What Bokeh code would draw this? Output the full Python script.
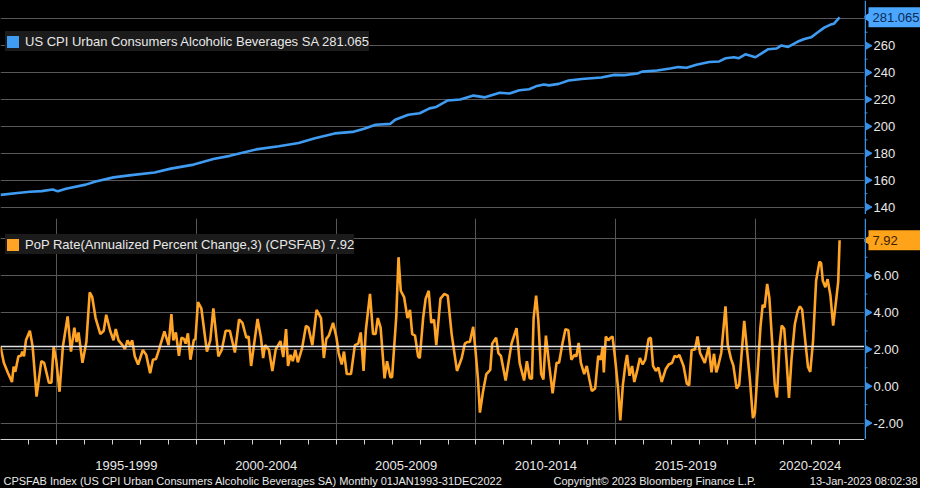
import math
from bokeh.plotting import figure
from bokeh.models import (Range1d, FixedTicker, Span, Label, Legend, LegendItem)
from bokeh.layouts import column, row
from bokeh.core.properties import value
from bokeh.embed import file_html
from bokeh.resources import INLINE

# ---------------- data ----------------
cpi_years = [1993.00, 1993.70, 1994.05, 1994.47, 1994.87, 1995.05, 1995.34, 1996.05,
             1996.40, 1997.04, 1997.68, 1998.51, 1999.09, 1999.91, 2000.61, 2001.20,
             2002.14, 2002.95, 2003.66, 2004.24, 2004.95, 2005.59, 2006.00, 2006.41,
             2006.94, 2007.11, 2007.58, 2007.99, 2008.34, 2008.58, 2008.99, 2009.44,
             2009.91, 2010.32, 2010.85, 2011.20, 2011.55, 2011.90, 2012.14, 2012.43,
             2012.61, 2012.96, 2013.31, 2013.78, 2014.48, 2014.95, 2015.30, 2015.77,
             2015.94, 2016.47, 2016.94, 2017.23, 2017.53, 2017.88, 2018.34, 2018.70,
             2018.93, 2019.22, 2019.40, 2019.63, 2019.99, 2020.45, 2020.75, 2020.92,
             2021.16, 2021.51, 2021.74, 2021.98, 2022.21, 2022.45, 2022.68, 2022.80,
             2023.00]
cpi_values = [149.1, 150.7, 151.4, 151.9, 153.1, 151.7, 153.6, 156.7,
              159.1, 162.1, 163.8, 165.7, 168.6, 171.6, 175.7, 178.1,
              182.9, 185.2, 187.6, 191.2, 194.8, 195.9, 198.3, 201.2,
              201.9, 205.0, 208.6, 209.8, 213.4, 214.5, 219.3, 220.0,
              222.9, 221.6, 225.0, 224.5, 226.9, 227.6, 229.8, 231.2,
              230.5, 231.6, 234.1, 235.2, 236.4, 238.3, 238.1, 239.3,
              240.7, 241.6, 243.1, 244.1, 243.6, 245.9, 247.9, 248.3,
              250.7, 251.4, 250.7, 253.6, 251.4, 257.4, 257.9, 260.2,
              259.1, 263.1, 265.0, 266.2, 269.8, 273.4, 275.7, 276.4,
              281.065]

pop_years = [
    1993.00, 1993.12, 1993.26, 1993.41, 1993.47, 1993.53, 1993.64, 1993.73, 1993.78, 1993.84,
    1993.91, 1994.05, 1994.15, 1994.29, 1994.46, 1994.56, 1994.73, 1994.82, 1994.90, 1994.99,
    1995.11, 1995.23, 1995.40, 1995.52, 1995.64, 1995.72, 1995.79, 1995.93, 1996.07, 1996.19,
    1996.28, 1996.40, 1996.57, 1996.69, 1996.78, 1996.92, 1997.04, 1997.12, 1997.22, 1997.36,
    1997.45, 1997.54, 1997.63, 1997.71, 1997.80, 1997.92, 1998.09,
    1998.21, 1998.35, 1998.45, 1998.56, 1998.68, 1998.86, 1999.01, 1999.11, 1999.18, 1999.27,
    1999.38, 1999.47, 1999.56, 1999.62, 1999.70, 1999.79, 1999.91, 1999.97, 2000.06, 2000.18,
    2000.38, 2000.50, 2000.61, 2000.79, 2000.91, 2001.05, 2001.20, 2001.38, 2001.53, 2001.65,
    2001.79, 2001.87, 2001.96, 2002.19, 2002.31, 2002.39, 2002.46, 2002.60, 2002.72, 2002.84,
    2003.01, 2003.11, 2003.21, 2003.28,
    2003.37, 2003.45, 2003.54, 2003.63, 2003.78, 2003.92, 2004.01, 2004.15, 2004.30, 2004.46,
    2004.56, 2004.65, 2004.74, 2004.89, 2005.01, 2005.09, 2005.20, 2005.28, 2005.38, 2005.53,
    2005.67, 2005.79, 2005.88, 2005.98, 2006.06, 2006.21, 2006.32, 2006.41, 2006.49, 2006.59,
    2006.73, 2006.82, 2006.94, 2007.00, 2007.15, 2007.23, 2007.31, 2007.43, 2007.55, 2007.64,
    2007.72, 2007.82, 2007.93, 2007.99, 2008.11, 2008.20, 2008.31,
    2008.40, 2008.50, 2008.58, 2008.73, 2008.87, 2008.99, 2009.13, 2009.32, 2009.49, 2009.60,
    2009.69, 2009.78, 2009.90, 2009.98, 2010.07, 2010.14, 2010.25, 2010.37, 2010.51, 2010.58,
    2010.72, 2010.80, 2010.89, 2011.06, 2011.27, 2011.45, 2011.56, 2011.72, 2011.82, 2011.92,
    2012.00, 2012.06, 2012.15, 2012.23, 2012.33, 2012.41, 2012.50, 2012.62, 2012.74, 2012.88,
    2012.97, 2013.09, 2013.20, 2013.30, 2013.41,
    2013.52, 2013.59, 2013.67, 2013.75, 2013.87, 2013.96, 2014.05, 2014.14, 2014.26, 2014.37,
    2014.46, 2014.53, 2014.57, 2014.64, 2014.73, 2014.81, 2014.88, 2014.96, 2015.08, 2015.16,
    2015.25, 2015.34, 2015.40, 2015.49, 2015.58, 2015.66, 2015.76, 2015.86, 2015.96, 2016.05,
    2016.17, 2016.25, 2016.33, 2016.43, 2016.52, 2016.64, 2016.78, 2016.89, 2017.01, 2017.10,
    2017.19, 2017.27, 2017.42, 2017.54, 2017.62, 2017.71, 2017.83, 2017.92, 2018.01, 2018.18,
    2018.32, 2018.42, 2018.51, 2018.59,
    2018.65, 2018.77, 2018.92, 2019.00, 2019.12, 2019.20, 2019.32, 2019.41, 2019.59, 2019.70,
    2019.79, 2019.90, 2019.97, 2020.06, 2020.17, 2020.25, 2020.32, 2020.41, 2020.49, 2020.58,
    2020.68, 2020.76, 2020.85, 2020.93, 2021.02, 2021.10, 2021.19, 2021.28, 2021.40, 2021.50,
    2021.58, 2021.66, 2021.78, 2021.87, 2021.95, 2022.05, 2022.16, 2022.28, 2022.34, 2022.40,
    2022.49, 2022.57, 2022.67, 2022.77, 2022.87, 2022.95, 2023.00]
pop_values = [
    2.14, 1.27, 0.75, 0.23, 1.06, 0.78, 1.62, 1.65, 1.88, 1.62,
    2.49, 3.01, 2.14, -0.56, 1.36, 1.27, 0.19, 0.19, 2.14, 1.44,
    -0.30, 2.14, 3.79, 1.88, 3.18, 2.40, 2.92, 1.27, 2.40, 5.10,
    4.83, 3.70, 2.83, 3.01, 3.88, 3.01, 2.49, 3.10, 2.49, 2.23,
    2.02, 2.49, 2.23, 2.49, 1.62, 1.18, 1.97,
    1.70, 0.71, 1.44, 1.48, 2.05, 2.97, 2.23, 3.91, 2.49, 2.92,
    1.65, 2.63, 2.57, 2.31, 2.87, 1.44, 2.49, 2.57, 4.57, 4.23,
    1.88, 2.49, 4.23, 1.62, 1.97, 3.01, 3.01, 1.83, 3.62, 3.44,
    2.63, 2.70, 1.10, 3.65, 2.66, 1.53, 2.23, 1.97, 0.83, 2.00,
    2.45, 1.58, 3.10, 1.10,
    1.70, 1.36, 1.97, 1.30, 2.05, 3.27, 3.18, 2.23, 4.14, 3.70,
    1.53, 2.57, 2.75, 3.44, 2.66, 1.80, 1.18, 1.88, 0.66, 0.66,
    2.23, 2.31, 2.92, 0.83, 3.01, 5.01, 2.83, 2.83, 3.70, 3.18,
    0.43, 1.36, 0.49, 0.49, 3.79, 7.00, 5.18, 4.83, 3.70, 4.14,
    2.83, 2.75, 1.62, 1.53, 3.70, 4.75, 5.18,
    3.44, 3.62, 2.23, 4.75, 5.01, 4.92, 2.83, 0.83, 1.53, 2.31,
    2.40, 2.40, 3.22, 1.97, 0.40, -1.43, -0.30, 0.66, 0.89, 2.31,
    2.63, 1.80, 1.65, 0.31, 2.31, 3.15, 1.27, 0.31, 1.36, 0.43,
    0.40, 3.70, 4.92, 3.53, 0.66, 0.37, 2.75, 1.10, -0.38, 1.27,
    1.27, 2.31, 3.10, 3.04, 1.44,
    1.70, 1.62, 2.35, 1.27, 0.66, 1.10, 0.40, -0.26, -0.12, 1.65,
    1.44, 2.14, 0.75, 2.70, 2.49, 2.63, 2.70, 1.70, -0.12, -1.86,
    0.05, 1.18, 1.70, 0.57, 1.10, 0.23, 0.83, 1.53, 1.18, 1.44,
    2.57, 2.63, 1.10, 0.83, 1.01, 0.23, 0.92, 1.18, 1.27, 1.65,
    1.58, 1.70, 1.10, 0.14, 0.05, 1.97, 2.00, 2.70, 1.80, 1.27,
    2.14, 0.75, 1.76, 0.75,
    1.04, 1.82, 4.33, 2.25, 1.47, 1.13, -0.12, 0.09, 3.55, 1.82,
    0.43, -1.73, -1.47, 0.61, 3.21, 4.42, 4.28, 5.55, 4.77, 2.60,
    0.09, -0.61, 2.17, 3.29, 3.12, 1.47, -0.64, 1.47, 3.38, 4.07,
    4.33, 4.16, 2.34, 1.04, 0.78, 2.43, 5.72, 6.76, 6.67, 5.72,
    5.37, 5.81, 4.94, 3.29, 4.59, 5.67, 7.92]

cpi_ticks = [140, 160, 180, 200, 220, 240, 260, 280]
cpi_minor = [150, 170, 190, 210, 230, 250, 270]
pop_ticks = [-2, 0, 2, 4, 6, 8]
pop_minor = [-1, 1, 3, 5, 7]
pop_mean = 2.15
period_starts = [1995, 2000, 2005, 2010, 2015, 2020]
period_labels = ["1995-1999", "2000-2004", "2005-2009", "2010-2014", "2015-2019", "2020-2024"]
year_ticks = list(range(1994, 2024))

cpi_name = "US CPI Urban Consumers Alcoholic Beverages SA"
pop_name = "PoP Rate(Annualized Percent Change,3) (CPSFAB)"
cpi_last = 281.065
pop_last = 7.92
footer_left = "CPSFAB Index (US CPI Urban Consumers Alcoholic Beverages SA)  Monthly 01JAN1993-31DEC2022"
footer_mid = "Copyright\u00a9 2023 Bloomberg Finance L.P."
footer_right = "13-Jan-2023 08:02:38"

# ---------------- style ----------------
BG = "#000000"
GRID = "#575757"
BLUE = "#3f9cf2"
ORANGE = "#ffa424"
AXIS_BLUE = "#3a8fe6"
TAG_BLUE = "#4aa6ff"
TAG_ORANGE = "#ffa31a"
TXT = "#e8e8e8"
FONT = "Liberation Sans"
W = 920
FW = 864
RB = W - FW
X0, X1 = 1993.0, 2023.89
TOP_H = 214
BOT_FH = 221
BOT_AX = 33

x_range = Range1d(X0, X1)
top_yr = Range1d(134.5, 293.6)
bot_yr = Range1d(-2.89, 9.1)


def base_fig(**kw):
    return figure(output_backend="svg", toolbar_location=None, background_fill_color=BG,
                  border_fill_color=BG, outline_line_color=None, **kw)


def make_legend(renderer, label, loc):
    return Legend(items=[LegendItem(label=label, renderers=[renderer])],
                  location=loc, background_fill_color="#1b1b1b", background_fill_alpha=1,
                  border_line_color=None, padding=4, margin=0, spacing=0,
                  label_text_color=TXT, label_text_font=FONT, label_text_font_size="13px",
                  glyph_width=15, glyph_height=15, label_height=20, label_standoff=5)


def axis_fig(y_range, height, ticks, minor, fmt, tag_y, tag_bg, tag_fg, bottom_border=0):
    f = base_fig(width=RB, height=height, x_range=Range1d(0, RB), y_range=y_range,
                 x_axis_location=None, y_axis_location=None, min_border_left=0,
                 min_border_right=0, min_border_top=0, min_border_bottom=bottom_border)
    f.xgrid.visible = False
    f.ygrid.visible = False
    shown = [t for t in ticks if abs(t - tag_y) > (ticks[1] - ticks[0]) * 0.5]
    f.add_layout(Span(location=0.75, dimension="height", line_color=AXIS_BLUE, line_width=1.5))
    f.segment(x0=[0] * len(minor), x1=[3] * len(minor), y0=minor, y1=minor,
              line_color=AXIS_BLUE, line_width=1)
    f.scatter(x=[3.5] * len(shown), y=shown, marker="triangle", angle=-math.pi / 2,
              size=7, fill_color=AXIS_BLUE, line_color=AXIS_BLUE)
    f.text(x=[9] * len(shown), y=shown, text=[fmt(t) for t in shown], text_baseline="middle",
           text_align="left", text_color=TXT, text_font=value(FONT), text_font_size="13px")
    f.rect(x=[30], y=[tag_y], width=52, height=20, height_units="screen",
           fill_color=tag_bg, line_color=None)
    f.scatter(x=[4.5], y=[tag_y], marker="triangle", angle=math.pi / 2, size=11,
              fill_color=tag_bg, line_color=tag_bg)
    f.text(x=[8], y=[tag_y], text=[f"{tag_y}"], text_baseline="middle", text_align="left",
           text_color=tag_fg, text_font=value(FONT), text_font_size="13px")
    return f


# ---------------- top panel ----------------
top = base_fig(width=FW, height=TOP_H, x_range=x_range, y_range=top_yr,
               x_axis_location=None, y_axis_location=None, min_border=0)
top.xgrid.visible = False
top.ygrid.ticker = FixedTicker(ticks=cpi_ticks)
top.ygrid.grid_line_color = GRID
top.line(cpi_years, cpi_values, line_color=BLUE, line_width=2.6)
r_top = top.vbar(x=cpi_years, top=cpi_values, width=0.05, fill_color=BLUE,
                 line_color=None, visible=False)
top.add_layout(make_legend(r_top, f"{cpi_name} {cpi_last}", (5, TOP_H - 23 - 28)))

top_ax = axis_fig(top_yr, TOP_H, cpi_ticks, cpi_minor, lambda t: f"{t:g}",
                  cpi_last, TAG_BLUE, "#0b2a52")

# ---------------- separator ----------------
sep = base_fig(width=W, height=4, x_range=Range1d(0, W), y_range=Range1d(0, 1),
               x_axis_location=None, y_axis_location=None, min_border=0)
sep.background_fill_color = "#4b4b4b"
sep.border_fill_color = "#4b4b4b"
sep.xgrid.visible = False
sep.ygrid.visible = False
sep.add_layout(Span(location=FW + 0.75, dimension="height", line_color=AXIS_BLUE, line_width=1.5))

# ---------------- bottom panel ----------------
bot = base_fig(width=FW, height=BOT_FH + BOT_AX, x_range=x_range, y_range=bot_yr,
               y_axis_location=None, min_border_left=0, min_border_right=0,
               min_border_top=0, min_border_bottom=BOT_AX)
bot.xgrid.ticker = FixedTicker(ticks=period_starts)
bot.xgrid.grid_line_color = GRID
bot.ygrid.ticker = FixedTicker(ticks=pop_ticks)
bot.ygrid.grid_line_color = GRID
bot.add_layout(Span(location=pop_mean, dimension="width", line_color="#e0e0e0", line_width=1.5))
bot.line(pop_years, pop_values, line_color=ORANGE, line_width=2.6)
r_bot = bot.vbar(x=pop_years, top=pop_values, width=0.05, fill_color=ORANGE,
                 line_color=None, visible=False)
bot.add_layout(make_legend(r_bot, f"{pop_name} {pop_last}", (5, BOT_FH - 8 - 28)))

centers = [(s + min(s + 5, X1)) / 2 for s in period_starts]
xa = bot.xaxis[0]
xa.ticker = FixedTicker(ticks=centers, minor_ticks=year_ticks)
xa.major_label_overrides = {c: lab for c, lab in zip(centers, period_labels)}
xa.axis_line_color = "#d0d0d0"
xa.major_tick_line_color = None
xa.major_tick_out = 0
xa.major_tick_in = 0
xa.minor_tick_line_color = "#d0d0d0"
xa.minor_tick_in = 0
xa.minor_tick_out = 5
xa.major_label_text_color = TXT
xa.major_label_text_font = FONT
xa.major_label_text_font_size = "13px"
xa.major_label_standoff = 16

bot_ax = axis_fig(bot_yr, BOT_FH + BOT_AX, pop_ticks, pop_minor, lambda t: f"{t:.2f}",
                  pop_last, TAG_ORANGE, "#3a2200", bottom_border=BOT_AX)

# ---------------- footer ----------------
foot = base_fig(width=W, height=16, x_range=Range1d(0, W), y_range=Range1d(0, 16),
                x_axis_location=None, y_axis_location=None, min_border=0)
foot.xgrid.visible = False
foot.ygrid.visible = False
for xx, txt, al in [(3, footer_left, "left"), (553, footer_mid, "left"), (917, footer_right, "right")]:
    foot.add_layout(Label(x=xx, y=8, text=txt, text_align=al, text_baseline="middle",
                          text_color=TXT, text_font=FONT, text_font_size="11px"))

layout = column(row(top, top_ax, spacing=0), sep, row(bot, bot_ax, spacing=0), foot,
                spacing=0, styles={"background-color": BG})
open("out.html", "w").write(file_html(layout, INLINE))
